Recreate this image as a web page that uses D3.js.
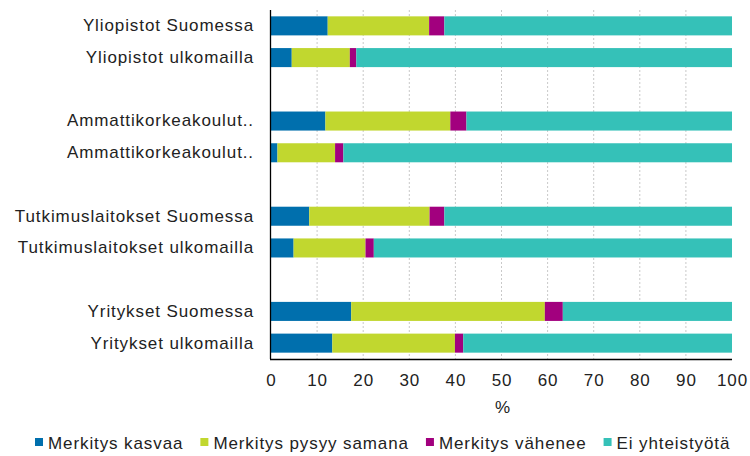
<!DOCTYPE html>
<html>
<head>
<meta charset="utf-8">
<script src="https://cdn.jsdelivr.net/npm/d3@7"></script>
<style>
  body { margin: 0; background: #fff; }
  svg text { font-family: "Liberation Sans", Arial, sans-serif; font-size: 17px; fill: #222; letter-spacing: 0.9px; }
</style>
</head>
<body>
<div id="chart"></div>
<script>
const categories = [
  "Yliopistot Suomessa",
  "Yliopistot ulkomailla",
  "Ammattikorkeakoulut..",
  "Ammattikorkeakoulut..",
  "Tutkimuslaitokset Suomessa",
  "Tutkimuslaitokset ulkomailla",
  "Yritykset Suomessa",
  "Yritykset ulkomailla"
];
const seriesNames = ["Merkitys kasvaa", "Merkitys pysyy samana", "Merkitys vähenee", "Ei yhteistyötä"];
const kasvaa = [12.3, 4.5, 11.8, 1.4, 8.3, 4.9, 17.4, 13.3];
const pysyy = [22.0, 12.6, 27.1, 12.5, 26.1, 15.6, 42.0, 26.6];
const vahenee = [3.3, 1.4, 3.5, 1.8, 3.2, 1.8, 3.9, 1.8];
const eiYhteistyota = [62.4, 81.5, 57.6, 84.3, 62.4, 77.7, 36.7, 58.3];
const xTicks = [0, 10, 20, 30, 40, 50, 60, 70, 80, 90, 100];
const colors = ["#006fad", "#c1d72f", "#a2007e", "#35c1b8"];

const W = 750, H = 456;
const margin = {top: 10, left: 270, right: 18, bottom: 97};
const width = W - margin.left - margin.right,
      height = H - margin.top - margin.bottom;

// rows with an empty slot after every pair
const rows = [];
categories.forEach((c, i) => {
  rows.push({key: "r" + i, label: c, i: i});
  if (i % 2 === 1 && i < categories.length - 1) rows.push({key: "gap" + i, label: "", i: -1});
});

const svg = d3.select("#chart").append("svg")
  .attr("width", W).attr("height", H);
const g = svg.append("g")
  .attr("transform", "translate(" + margin.left + "," + margin.top + ")");

const x = d3.scaleLinear().domain([0, 100]).range([1, width]);
const y = d3.scaleBand()
  .domain(rows.map(r => r.key))
  .range([0, height])
  .paddingInner(0.4).paddingOuter(0.2);

// grid
g.append("g").selectAll("line")
  .data(xTicks.filter(t => t > 0 && t < 100))
  .enter().append("line")
    .attr("x1", d => x(d)).attr("x2", d => x(d))
    .attr("y1", 0).attr("y2", height)
    .attr("stroke", "#c9c9c9")
    .attr("stroke-dasharray", "2,2");

// bars
const table = categories.map((c, i) => ({
  key: "r" + i,
  [seriesNames[0]]: kasvaa[i],
  [seriesNames[1]]: pysyy[i],
  [seriesNames[2]]: vahenee[i],
  [seriesNames[3]]: eiYhteistyota[i]
}));
const stacked = d3.stack().keys(seriesNames)(table);
g.append("g").selectAll("g")
  .data(stacked)
  .enter().append("g")
    .attr("fill", (d, i) => colors[i])
  .selectAll("rect")
  .data(d => d)
  .enter().append("rect")
    .attr("x", d => x(d[0]))
    .attr("y", d => y(d.data.key))
    .attr("width", d => x(d[1]) - x(d[0]))
    .attr("height", y.bandwidth());

// axes
const labelOf = {};
rows.forEach(r => labelOf[r.key] = r.label);
const yAxis = g.append("g")
  .call(d3.axisLeft(y).tickSize(0).tickPadding(16).tickFormat(k => labelOf[k]));
yAxis.select(".domain").remove();
yAxis.selectAll("text").style("font-size", null).attr("font-size", null).attr("font-family", null);

const xAxis = g.append("g")
  .attr("transform", "translate(0," + height + ")")
  .call(d3.axisBottom(x).tickValues(xTicks).tickSize(0).tickPadding(15));
xAxis.select(".domain").remove();
xAxis.selectAll("text").attr("font-size", null).attr("font-family", null);

g.append("line")
  .attr("x1", 0.5).attr("x2", 0.5).attr("y1", 0).attr("y2", height)
  .attr("stroke", "#000").attr("stroke-width", 1.3);
g.append("line")
  .attr("x1", 0).attr("x2", x(100)).attr("y1", height + 0.5).attr("y2", height + 0.5)
  .attr("stroke", "#000").attr("stroke-width", 1.3);

svg.append("text")
  .attr("x", 503).attr("y", 413)
  .attr("text-anchor", "middle")
  .text("%");

// legend
const legend = svg.append("g").attr("transform", "translate(35,0)");
let lx = 0;
seriesNames.forEach((name, i) => {
  const item = legend.append("g").attr("transform", "translate(" + lx + ",0)");
  item.append("rect")
    .attr("x", 0).attr("y", 438).attr("width", 8).attr("height", 8)
    .attr("fill", colors[i]);
  const t = item.append("text").attr("x", 13).attr("y", 449).text(name);
  lx += 13 + t.node().getComputedTextLength() + 17;
});
</script>
</body>
</html>
